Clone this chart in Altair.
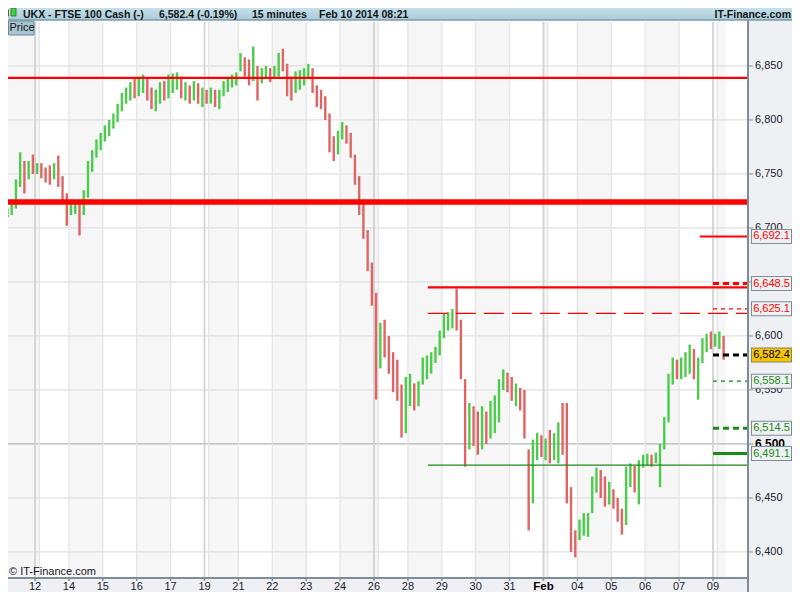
import altair as alt
import pandas as pd

# ---------------- data ----------------
day_labels = ["10", "12", "13", "14", "15", "16", "17", "19", "20", "21", "22", "23", "24",
              "26", "27", "28", "29", "30", "31", "Feb", "03", "04", "05", "06", "07", "09", "10"]
day_number = [10, 12, 13, 14, 15, 16, 17, 19, 20, 21, 22, 23, 24,
              26, 27, 28, 29, 30, 31, 2, 3, 4, 5, 6, 7, 9, 10]
day_bars = [8, 1, 7, 8, 8, 8, 8, 1, 7, 8, 8, 8, 8, 1, 7, 8, 8, 8, 8, 1, 7, 8, 8, 8, 8, 1, 2]
day_shown = [0, 1, 0, 1, 1, 1, 1, 1, 0, 1, 1, 1, 1, 1, 0, 1, 1, 1, 1, 1, 0, 1, 1, 1, 1, 1, 0]
day_sunday = [0, 1, 0, 0, 0, 0, 0, 1, 0, 0, 0, 0, 0, 1, 0, 0, 0, 0, 0, 1, 0, 0, 0, 0, 0, 1, 0]

# hourly-ish bars (high, low, close)
bar_high = [6716, 6718, 6722, 6745, 6770, 6762, 6762, 6768,
            6760,
            6760, 6756, 6758, 6760, 6767, 6748, 6732,
            6724, 6726, 6722, 6735, 6762, 6772, 6782, 6788,
            6795, 6800, 6806, 6815, 6825, 6830, 6835, 6838,
            6840, 6842, 6838, 6830, 6828, 6835, 6836, 6842,
            6843, 6844, 6840, 6835, 6832, 6836, 6834, 6830,
            6828,
            6830, 6828, 6828, 6836, 6840, 6842, 6844,
            6862, 6858, 6856, 6868, 6850, 6848, 6850, 6848,
            6850, 6862, 6866, 6852, 6840, 6845, 6846, 6848,
            6852, 6848, 6832, 6828, 6822, 6806, 6785, 6790,
            6798, 6795, 6788, 6768, 6748, 6722, 6698, 6668,
            6640,
            6612, 6615, 6600, 6585, 6578, 6555, 6562,
            6565, 6556, 6558, 6580, 6582, 6585, 6590, 6605,
            6621, 6622, 6625, 6644, 6615, 6560, 6538, 6535,
            6530, 6535, 6530, 6540, 6545, 6560, 6569, 6566,
            6562, 6556, 6552, 6550, 6495, 6504, 6510, 6508,
            6505,
            6513, 6510, 6520, 6538, 6538, 6460, 6420,
            6430, 6436, 6436, 6470, 6478, 6476, 6470, 6465,
            6458, 6450, 6440, 6479, 6482, 6480, 6485, 6490,
            6491, 6490, 6492, 6500, 6525, 6565, 6580, 6578,
            6580, 6585, 6592, 6588, 6580, 6598, 6602, 6604,
            6602,
            6604, 6600]
bar_low = [6708, 6710, 6712, 6718, 6738, 6732, 6745, 6750,
           6750,
           6746, 6742, 6740, 6745, 6738, 6725, 6702,
           6712, 6713, 6693, 6712, 6728, 6752, 6765, 6772,
           6780, 6785, 6792, 6798, 6808, 6815, 6818, 6820,
           6822, 6825, 6818, 6810, 6808, 6815, 6818, 6820,
           6825, 6828, 6820, 6818, 6815, 6818, 6815, 6812,
           6815,
           6815, 6812, 6810, 6822, 6826, 6830, 6832,
           6845, 6840, 6832, 6836, 6818, 6834, 6838, 6835,
           6838, 6840, 6845, 6822, 6818, 6825, 6828, 6832,
           6838, 6825, 6812, 6810, 6800, 6770, 6762, 6768,
           6782, 6778, 6765, 6740, 6712, 6690, 6660, 6628,
           6541,
           6570, 6580, 6565, 6548, 6540, 6506, 6510,
           6535, 6531, 6535, 6555, 6560, 6565, 6575, 6582,
           6598, 6605, 6607, 6605, 6560, 6479, 6495, 6498,
           6490, 6495, 6500, 6505, 6510, 6520, 6550, 6548,
           6540, 6535, 6531, 6505, 6420, 6445, 6485, 6488,
           6485,
           6482, 6485, 6482, 6490, 6445, 6400, 6395,
           6411, 6415, 6414, 6436, 6455, 6450, 6442, 6444,
           6440, 6428, 6416, 6425, 6460, 6455, 6444, 6478,
           6480, 6479, 6482, 6460, 6495, 6520, 6555, 6560,
           6560, 6562, 6565, 6560, 6541, 6575, 6585, 6588,
           6590,
           6588, 6578]
bar_close = [6712, 6714, 6718, 6742, 6752, 6745, 6758, 6755,
             6755,
             6752, 6750, 6745, 6752, 6742, 6730, 6712,
             6718, 6720, 6712, 6730, 6755, 6768, 6778, 6784,
             6790, 6795, 6800, 6812, 6820, 6826, 6830, 6828,
             6832, 6835, 6828, 6815, 6822, 6830, 6826, 6832,
             6835, 6838, 6826, 6830, 6820, 6830, 6822, 6825,
             6822,
             6822, 6818, 6825, 6830, 6834, 6836, 6838,
             6855, 6845, 6840, 6845, 6830, 6842, 6845, 6840,
             6842, 6855, 6850, 6830, 6825, 6838, 6840, 6842,
             6845, 6830, 6818, 6815, 6805, 6780, 6770, 6782,
             6792, 6782, 6768, 6745, 6718, 6695, 6665, 6635,
             6580,
             6600, 6590, 6575, 6560, 6550, 6520, 6545,
             6548, 6540, 6552, 6570, 6575, 6580, 6585, 6600,
             6612, 6615, 6618, 6612, 6570, 6510, 6520, 6510,
             6505, 6515, 6512, 6530, 6535, 6555, 6560, 6555,
             6545, 6545, 6540, 6520, 6460, 6490, 6495, 6492,
             6495,
             6490, 6498, 6510, 6505, 6455, 6415, 6412,
             6420, 6425, 6430, 6460, 6465, 6462, 6448, 6455,
             6445, 6435, 6425, 6470, 6475, 6468, 6478, 6485,
             6486, 6484, 6488, 6495, 6520, 6555, 6570, 6568,
             6572, 6575, 6580, 6570, 6575, 6592, 6598, 6595,
             6596,
             6598, 6582.4]
first_open = 6710

yaxis_ticks = [6400, 6450, 6500, 6550, 6600, 6650, 6700, 6750, 6800, 6850]
major_tick = 6500

level_value = [6838.9, 6724.0, 6692.1, 6648.5, 6645.0, 6625.1, 6621.0, 6582.4, 6558.1, 6514.5, 6491.1, 6480.5]
level_start = [0, 0, 164.9, 168, 100.7, 168, 100.7, 168, 168, 168, 168, 100.7]
level_color = ["red", "red", "red", "red", "red", "red", "red", "black", "green", "green", "green", "green"]
level_style = ["s2", "s5", "s2", "d3", "s2", "d1", "ld", "d3", "d1", "d3", "s3", "s1"]

box_value = [6692.1, 6648.5, 6625.1, 6582.4, 6558.1, 6514.5, 6491.1]
box_kind = ["red", "red", "red", "last", "green", "green", "green"]

# ---------------- frames ----------------
RED, GREEN, BLACK = "#ff0000", "#1b8a1b", "#000000"
col_map = {"red": RED, "green": GREEN, "black": BLACK}
UP, DOWN = "#4ccc4c", "#e06464"

starts, s = [], 0
for n in day_bars:
    starts.append(s)
    s += n
days = pd.DataFrame({
    "label": day_labels, "num": day_number, "start": starts,
    "end": [a + b for a, b in zip(starts, day_bars)],
    "shown": day_shown, "sunday": day_sunday,
})
days["shaded"] = (days["num"] % 2 == 0).astype(int)

bars = pd.DataFrame({"hi": bar_high, "lo": bar_low, "cl": bar_close})
bars["xc"] = bars.index + 0.5
bars["op"] = bars["cl"].shift(1).fillna(first_open)
bars["col"] = [UP if c >= o else DOWN for c, o in zip(bars["cl"], bars["op"])]

yt = pd.DataFrame({"v": yaxis_ticks})
yt["lab"] = [f"{v:,}" for v in yaxis_ticks]
yt["major"] = (yt["v"] == major_tick).astype(int)
yt["gcol"] = ["#b5b5b5" if m else "#e0e0e0" for m in yt["major"]]

lv = pd.DataFrame({"v": level_value, "start": level_start, "style": level_style,
                   "col": [col_map[c] for c in level_color]})

bx = pd.DataFrame({"v": box_value, "kind": box_kind})
bx["lab"] = [f"{v:,.1f}" for v in box_value]
bx["tcol"] = [RED if k == "red" else (GREEN if k == "green" else "#000000") for k in box_kind]
bx["fill"] = ["#f5c400" if k == "last" else "#eef0f1" for k in box_kind]
bx["bord"] = ["#8d8560" if k == "last" else "#7d8d97" for k in box_kind]

one = pd.DataFrame({"a": [0]})

# ---------------- layout ----------------
# whole chart 784 x 584 so that the page (8px margin) does not overflow 800 x 600
W, H = 740, 556
PR, PB, PT = 44, 14, 14
X_DOM = [1.628, 176.26]
Y_DOM = [6375.9, 6890.7]
xs = alt.Scale(domain=X_DOM, nice=False, zero=False)
ys = alt.Scale(domain=Y_DOM, nice=False, zero=False)
FONT = "Liberation Sans"
AXIS = "#7d8d97"
PANEL = "#eef0f3"
TXT = "#1c1c30"


def X(f):
    return alt.X(f, scale=xs, axis=None)


def Y(f):
    return alt.Y(f, scale=ys, axis=None)


layers = []

# day shading
layers.append(alt.Chart(days).transform_filter("datum.shaded == 1").mark_rect(color="#f6f6f6", clip=True)
              .encode(x=X("start:Q"), x2="end:Q", y=alt.value(0), y2=alt.value(H)))
# horizontal grid
layers.append(alt.Chart(yt).mark_rule(strokeWidth=1.2)
              .encode(y=Y("v:Q"), x=alt.value(0), x2=alt.value(W),
                      color=alt.Color("gcol:N", scale=None)))
# vertical grid
layers.append(alt.Chart(days).transform_filter("datum.sunday == 0").mark_rule(color="#e4e4e4", strokeWidth=1.3, clip=True)
              .encode(x=X("start:Q"), y=alt.value(0), y2=alt.value(H)))
layers.append(alt.Chart(days).transform_filter("datum.sunday == 1").mark_rule(color="#d2d2d2", strokeWidth=1.8, clip=True)
              .encode(x=X("start:Q"), y=alt.value(0), y2=alt.value(H)))

# candles
layers.append(alt.Chart(bars).mark_rule(strokeWidth=2.4, clip=True).encode(
    x=X("xc:Q"), y=Y("lo:Q"), y2="hi:Q", color=alt.Color("col:N", scale=None)))

# level lines
styles = {
    "s1": dict(strokeWidth=1.3),
    "s2": dict(strokeWidth=2.2),
    "s3": dict(strokeWidth=3),
    "s5": dict(strokeWidth=5.5),
    "d1": dict(strokeWidth=1.3, strokeDash=[4, 4]),
    "d3": dict(strokeWidth=3, strokeDash=[6, 4]),
    "ld": dict(strokeWidth=1.3, strokeDash=[20, 8]),
}
for key, kw in styles.items():
    layers.append(alt.Chart(lv).transform_filter(f"datum.style == '{key}'")
                  .mark_rule(clip=True, strokeCap="butt", **kw)
                  .encode(x=X("start:Q"), x2=alt.value(W), y=Y("v:Q"),
                          color=alt.Color("col:N", scale=None)))

# right panel & bottom strip
layers.append(alt.Chart(one).mark_rect(color=PANEL).encode(
    x=alt.value(W), x2=alt.value(W + PR), y=alt.value(-2), y2=alt.value(H + PB)))
layers.append(alt.Chart(one).mark_rect(color=PANEL).encode(
    x=alt.value(0), x2=alt.value(W + PR), y=alt.value(H), y2=alt.value(H + PB)))
layers.append(alt.Chart(one).mark_rule(color=AXIS, strokeWidth=2).encode(
    x=alt.value(W), y=alt.value(-2), y2=alt.value(H + PB)))
layers.append(alt.Chart(one).mark_rule(color=AXIS, strokeWidth=2).encode(
    y=alt.value(H), x=alt.value(0), x2=alt.value(W + 1)))

# y axis ticks & labels
layers.append(alt.Chart(yt).mark_rule(color=AXIS, strokeWidth=1).encode(
    y=Y("v:Q"), x=alt.value(W), x2=alt.value(W + 5)))
layers.append(alt.Chart(yt).transform_filter("datum.major == 0").mark_text(
    align="left", baseline="middle", font=FONT, fontSize=11, color=TXT).encode(
    y=Y("v:Q"), x=alt.value(W + 7), text="lab:N"))
layers.append(alt.Chart(yt).transform_filter("datum.major == 1").mark_text(
    align="left", baseline="middle", font=FONT, fontSize=12, fontWeight="bold", color="#000000").encode(
    y=Y("v:Q"), x=alt.value(W + 7), text="lab:N"))

# x axis ticks & labels
layers.append(alt.Chart(days).transform_filter("datum.shown == 1").mark_rule(color=AXIS, strokeWidth=1.5).encode(
    x=X("start:Q"), y=alt.value(H), y2=alt.value(H + 3)))
layers.append(alt.Chart(days).transform_filter("datum.shown == 1 && datum.label != 'Feb'").mark_text(
    align="center", baseline="alphabetic", font=FONT, fontSize=11, color=TXT).encode(
    x=X("start:Q"), y=alt.value(H + 11.5), text="label:N"))
layers.append(alt.Chart(days).transform_filter("datum.label == 'Feb'").mark_text(
    align="center", baseline="alphabetic", font=FONT, fontSize=11.5, fontWeight="bold", color="#000000").encode(
    x=X("start:Q"), y=alt.value(H + 11.5), text="label:N"))

# level boxes
layers.append(alt.Chart(bx).mark_rule(strokeWidth=15, strokeCap="butt").encode(
    y=Y("v:Q"), x=alt.value(W + 3), x2=alt.value(W + 44), color=alt.Color("bord:N", scale=None)))
layers.append(alt.Chart(bx).mark_rule(strokeWidth=13, strokeCap="butt").encode(
    y=Y("v:Q"), x=alt.value(W + 4), x2=alt.value(W + 43), color=alt.Color("fill:N", scale=None)))
layers.append(alt.Chart(bx).mark_text(align="center", baseline="middle", font=FONT, fontSize=11).encode(
    y=Y("v:Q"), x=alt.value(W + 23.5), text="lab:N", color=alt.Color("tcol:N", scale=None)))

# header bar
hdr_grad = alt.LinearGradient(gradient="linear", x1=0, x2=0, y1=0, y2=1,
                              stops=[alt.GradientStop(color="#c6e0ea", offset=0),
                                     alt.GradientStop(color="#a9cbd9", offset=1)])
layers.append(alt.Chart(one).mark_rect(fill=hdr_grad).encode(
    x=alt.value(0), x2=alt.value(W + PR), y=alt.value(-14), y2=alt.value(-2)))
layers.append(alt.Chart(one).mark_rule(color="#7f9aa8", strokeWidth=1.5).encode(
    x=alt.value(0), x2=alt.value(W + PR), y=alt.value(-2)))
# icon
layers.append(alt.Chart(one).mark_rect(color="#e05050", stroke="#903030", strokeWidth=0.8).encode(
    x=alt.value(-4.5), x2=alt.value(0.5), y=alt.value(-12), y2=alt.value(-6)))
layers.append(alt.Chart(one).mark_rect(color="#40d040", stroke="#207020", strokeWidth=0.8).encode(
    x=alt.value(3), x2=alt.value(8), y=alt.value(-14), y2=alt.value(-6)))
hdr_items = [("UKX - FTSE 100 Cash (-)", 15, "left"), ("6,582.4 (-0.19%)", 151, "left"),
             ("15 minutes", 244, "left"), ("Feb 10 2014 08:21", 311, "left"),
             ("IT-Finance.com", W + PR - 1, "right")]
for txt, xp, al in hdr_items:
    layers.append(alt.Chart(one).mark_text(text=txt, align=al, baseline="alphabetic", font=FONT,
                                           fontSize=10.5, fontWeight="bold", color="#141414").encode(
        x=alt.value(xp), y=alt.value(-4.5)))

# Price box
layers.append(alt.Chart(one).mark_rect(color="#a9c4d1", stroke="#6f8b99", strokeWidth=1).encode(
    x=alt.value(0.5), x2=alt.value(26), y=alt.value(-1), y2=alt.value(13)))
layers.append(alt.Chart(one).mark_text(text="Price", align="left", baseline="middle", font=FONT,
                                       fontSize=11, color="#141414").encode(
    x=alt.value(1.5), y=alt.value(6)))

# copyright
layers.append(alt.Chart(one).mark_text(text="© IT-Finance.com", align="left", baseline="alphabetic",
                                       font=FONT, fontSize=11, color="#141428").encode(
    x=alt.value(1), y=alt.value(553)))

chart = alt.layer(*layers).properties(
    width=W, height=H,
    padding={"left": 0, "top": PT, "right": PR, "bottom": PB},
    autosize=alt.AutoSizeParams(type="none"),
    background="white",
).configure_view(stroke=None)

chart.save("out.html", embed_options={"renderer": "svg", "actions": False})
